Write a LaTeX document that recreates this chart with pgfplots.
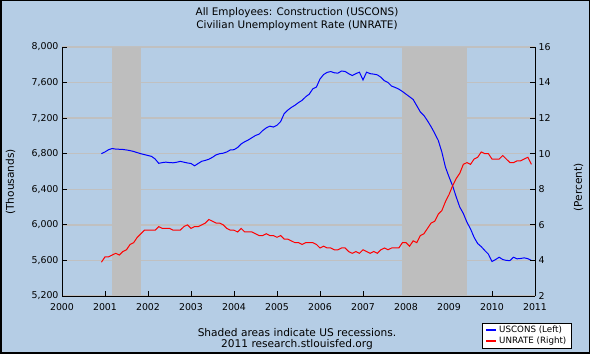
\documentclass[border=0pt]{standalone}
\usepackage{fontspec}
\setmainfont{DejaVu Sans}
\usepackage{pgfplots}
\usepackage{pgfplotstable}
\pgfplotsset{compat=1.18}
\definecolor{bgblue}{RGB}{181,205,229}
\definecolor{recgray}{RGB}{190,190,190}
\definecolor{gridgray}{RGB}{192,192,192}

\pgfplotstableread{
x uscons unrate
2000.9167 6800 3.9
2001.0000 6820 4.2
2001.0833 6845 4.2
2001.1667 6858 4.3
2001.2500 6852 4.4
2001.3333 6850 4.3
2001.4167 6848 4.5
2001.5000 6842 4.6
2001.5833 6835 4.9
2001.6667 6825 5.0
2001.7500 6812 5.3
2001.8333 6800 5.5
2001.9167 6790 5.7
2002.0000 6780 5.7
2002.0833 6770 5.7
2002.1667 6740 5.7
2002.2500 6692 5.9
2002.3333 6700 5.8
2002.4167 6705 5.8
2002.5000 6700 5.8
2002.5833 6698 5.7
2002.6667 6704 5.7
2002.7500 6714 5.7
2002.8333 6705 5.9
2002.9167 6696 6.0
2003.0000 6690 5.8
2003.0833 6664 5.9
2003.1667 6690 5.9
2003.2500 6715 6.0
2003.3333 6725 6.1
2003.4167 6738 6.3
2003.5000 6760 6.2
2003.5833 6787 6.1
2003.6667 6800 6.1
2003.7500 6806 6.0
2003.8333 6820 5.8
2003.9167 6843 5.7
2004.0000 6845 5.7
2004.0833 6870 5.6
2004.1667 6910 5.8
2004.2500 6935 5.6
2004.3333 6955 5.6
2004.4167 6980 5.6
2004.5000 7005 5.5
2004.5833 7020 5.4
2004.6667 7060 5.4
2004.7500 7090 5.5
2004.8333 7110 5.4
2004.9167 7100 5.4
2005.0000 7120 5.3
2005.0833 7160 5.4
2005.1667 7250 5.2
2005.2500 7290 5.2
2005.3333 7320 5.1
2005.4167 7345 5.0
2005.5000 7375 5.0
2005.5833 7400 4.9
2005.6667 7440 5.0
2005.7500 7470 5.0
2005.8333 7530 5.0
2005.9167 7550 4.9
2006.0000 7640 4.7
2006.0833 7690 4.8
2006.1667 7715 4.7
2006.2500 7724 4.7
2006.3333 7710 4.6
2006.4167 7706 4.6
2006.5000 7730 4.7
2006.5833 7725 4.7
2006.6667 7700 4.5
2006.7500 7680 4.4
2006.8333 7700 4.5
2006.9167 7717 4.4
2007.0000 7630 4.6
2007.0833 7717 4.5
2007.1667 7700 4.4
2007.2500 7695 4.5
2007.3333 7687 4.4
2007.4167 7660 4.6
2007.5000 7620 4.7
2007.5833 7600 4.6
2007.6667 7560 4.7
2007.7500 7545 4.7
2007.8333 7526 4.7
2007.9167 7500 5.0
2008.0000 7470 5.0
2008.0833 7440 4.8
2008.1667 7410 5.1
2008.2500 7340 5.0
2008.3333 7270 5.4
2008.4167 7230 5.5
2008.5000 7170 5.8
2008.5833 7104 6.1
2008.6667 7030 6.2
2008.7500 6950 6.6
2008.8333 6820 6.8
2008.9167 6650 7.3
2009.0000 6540 7.7
2009.0833 6440 8.2
2009.1667 6316 8.6
2009.2500 6200 8.9
2009.3333 6128 9.4
2009.4167 6030 9.5
2009.5000 5955 9.4
2009.5833 5860 9.7
2009.6667 5790 9.8
2009.7500 5755 10.1
2009.8333 5711 10.0
2009.9167 5670 10.0
2010.0000 5588 9.7
2010.0833 5610 9.7
2010.1667 5636 9.7
2010.2500 5610 9.9
2010.3333 5600 9.7
2010.4167 5598 9.5
2010.5000 5636 9.5
2010.5833 5618 9.6
2010.6667 5622 9.6
2010.7500 5629 9.7
2010.8333 5620 9.8
2010.9167 5600 9.4
}\datatable

\pgfplotstableread{
x y
2001.1667 5200
2001.1667 8000
2001.8333 8000
2001.8333 5200
}\recessionA

\pgfplotstableread{
x y
2007.9167 5200
2007.9167 8000
2009.4167 8000
2009.4167 5200
}\recessionB

\begin{document}
\begin{tikzpicture}[x=1pt,y=1pt]
\fill[bgblue] (0,0) rectangle (590,354);
\draw[black,line width=1.5pt] (0.75,0.75) rectangle (589.25,353.25);
\node[font=\fontsize{10.4}{12}\selectfont] at (297,341) {All Employees: Construction (USCONS)};
\node[font=\fontsize{10.4}{12}\selectfont] at (297,328.5) {Civilian Unemployment Rate (UNRATE)};
\node[font=\fontsize{10.6}{12}\selectfont] at (297,21.3) {Shaded areas indicate US recessions.};
\node[font=\fontsize{10.6}{12}\selectfont] at (297,9.8) {2011 research.stlouisfed.org};

\begin{axis}[
  at={(62pt,58pt)}, anchor=south west, scale only axis,
  width=473pt, height=249pt,
  xmin=2000, xmax=2011, ymin=5200, ymax=8000,
  axis x line*=bottom, axis y line*=left,
  axis line style={-, line width=1pt, black},
  xtick={2000,2001,...,2011}, ytick={5200,5600,...,8000},
  tick align=inside, major tick length=5pt,
  tick style={black, line width=0.8pt},
  ymajorgrids, grid style={gridgray, line width=1.3pt},
  /pgf/number format/assume math mode=true,
  x tick label style={font=\fontsize{9.4}{11}\selectfont, yshift=-4pt, /pgf/number format/1000 sep={}},
  y tick label style={font=\fontsize{9.4}{11}\selectfont, /pgf/number format/1000 sep={,}},
  ylabel={(Thousands)},
  every axis y label/.style={at={(axis description cs:-0.109,0.458)}, rotate=90, anchor=center, font=\fontsize{10.6}{12}\selectfont},
]
\addplot[fill=recgray, draw=none] table[x=x,y=y]{\recessionA} -- cycle;
\addplot[fill=recgray, draw=none] table[x=x,y=y]{\recessionB} -- cycle;
\addplot[blue, line width=1pt] table[x=x,y=uscons]{\datatable};
\end{axis}

\begin{axis}[
  at={(62pt,58pt)}, anchor=south west, scale only axis,
  width=473pt, height=249pt,
  xmin=2000, xmax=2011, ymin=2, ymax=16,
  axis y line*=right, axis x line=none,
  axis line style={-, line width=1pt, black},
  ytick={2,4,...,16},
  tick align=inside, major tick length=5pt,
  tick style={black, line width=0.8pt},
  /pgf/number format/assume math mode=true,
  y tick label style={font=\fontsize{9.4}{11}\selectfont},
  ylabel={(Percent)},
  every axis y label/.style={at={(axis description cs:1.092,0.436)}, rotate=90, anchor=center, font=\fontsize{10.6}{12}\selectfont},
  legend image code/.code={\draw[#1, line width=2pt] (0pt,0pt) -- (10pt,0pt);},
  legend style={at={(axis description cs:0.888,-0.107)}, anchor=north west,
    draw=black, fill=white, font=\fontsize{8.7}{10}\selectfont,
    inner xsep=3pt, inner ysep=1pt, row sep=-1pt,
    /tikz/every even column/.append style={column sep=2pt}},
  legend cell align=left,
]
\addlegendimage{blue}
\addlegendentry{USCONS (Left)}
\addplot[red, line width=1pt] table[x=x,y=unrate]{\datatable};
\addlegendentry{UNRATE (Right)}
\end{axis}
\end{tikzpicture}
\end{document}
